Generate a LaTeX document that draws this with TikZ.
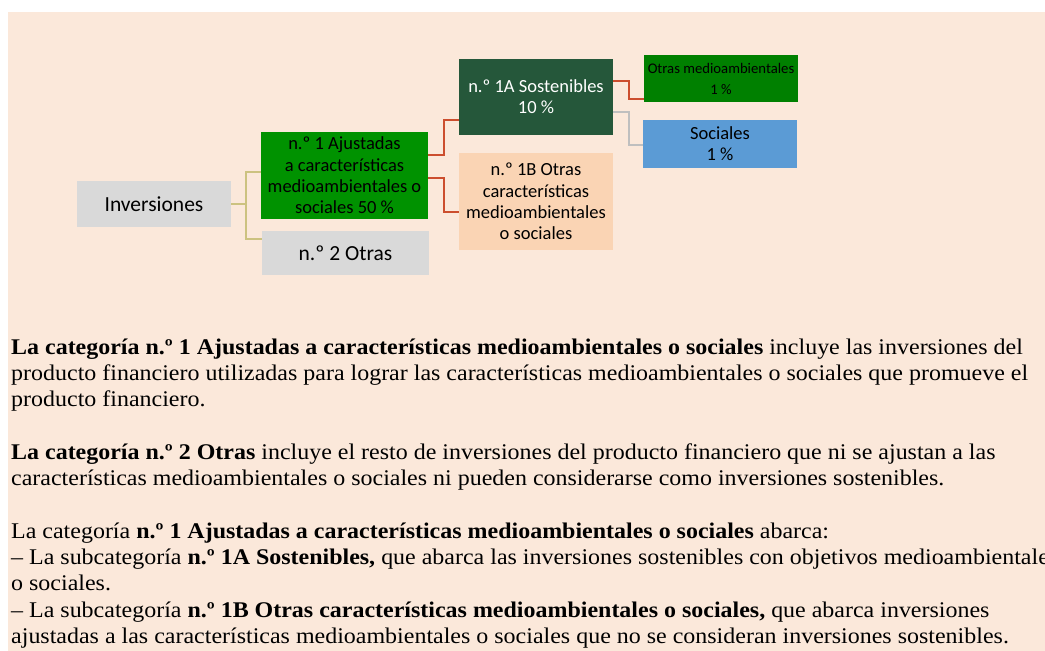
\documentclass[tikz,border=0pt]{standalone}
\usepackage{fontspec}
\setmainfont{Liberation Serif}[FakeStretch=1.07]
\newfontfamily\boxfont{Carlito}
\usetikzlibrary{positioning}
\definecolor{peach}{RGB}{251,232,218}
\definecolor{boxgrey}{RGB}{217,217,217}
\definecolor{brightgreen}{RGB}{0,146,0}
\definecolor{darkgreen}{RGB}{37,87,58}
\definecolor{lightpeach}{RGB}{250,212,180}
\definecolor{midgreen}{RGB}{0,128,0}
\definecolor{skyblue}{RGB}{91,155,213}
\definecolor{khaki}{RGB}{204,194,128}
\definecolor{rust}{RGB}{204,78,46}
\definecolor{linegrey}{RGB}{191,191,191}
\tikzset{
  box/.style={inner sep=0pt, align=center, minimum width=154, font={\boxfont\fontsize{18.5}{21.3}\selectfont}},
  grey/.style={box, fill=boxgrey, font={\boxfont\fontsize{21.5}{24}\selectfont}},
  green/.style={box, fill=brightgreen},
  dark/.style={box, fill=darkgreen, text=white},
  pale/.style={box, fill=lightpeach},
  small/.style={box, fill=midgreen, font={\boxfont\fontsize{14.7}{21}\selectfont}},
  blue/.style={box, fill=skyblue},
  tie/.style={line width=1.5pt},
  line/.style={anchor=base west, inner sep=0pt, font={\fontsize{22.4}{26.3}\selectfont}}
}
\begin{document}
\begin{tikzpicture}[x=1pt,y=-1pt]
    \useasboundingbox (0,0) rectangle (1045,651);
    \fill[peach] (8,12) rectangle (1045,651);
    % boxes
    \node[grey, minimum height=46] (inv) at (154,204) {Inversiones};
    \node[green, minimum width=167, minimum height=87] (n1) at (344.5,175.5) {n.º 1 Ajustadas\\a características\\medioambientales o\\sociales 50 \%};
    \node[grey, minimum width=167, minimum height=44] (n2) at (345.5,253) {n.º 2 Otras};
    \node[dark, minimum height=76] (n1a) at (536,97) {n.º 1A Sostenibles\\10 \%};
    \node[pale, minimum height=97] (n1b) at (536,201.5) {n.º 1B Otras\\características\\medioambientales\\o sociales};
    \node[small, minimum height=47] (oma) at (721,78.5) {Otras medioambientales\\1 \%};
    \node[blue, minimum height=48] (soc) at (720,144) {Sociales\\1 \%};
    % connectors
    \draw[tie, khaki] (inv.east) -- ++(15,0) |- (n1.west |- 0,172);
    \draw[tie, khaki] (inv.east) -- ++(15,0) |- (n2.west |- 0,239);
    \draw[tie, rust] (n1.east |- 0,155) -- ++(16,0) |- (n1a.west |- 0,120);
    \draw[tie, rust] (n1.east |- 0,178) -- ++(16,0) |- (n1b.west |- 0,212);
    \draw[tie, rust] (n1a.east |- 0,81) -- ++(16,0) |- (oma.west |- 0,99);
    \draw[tie, linegrey] (n1a.east |- 0,112) -- ++(16,0) |- (soc.west |- 0,145);
    % text below
    \begin{scope}
    \clip (0,0) rectangle (1045,651);
    \node[line] (p1) at (11,354) {\textbf{La categoría n.º 1 Ajustadas a características medioambientales o sociales} incluye las inversiones del};
    \node[line] (p2) at (11,380.3) {producto financiero utilizadas para lograr las características medioambientales o sociales que promueve el};
    \node[line] (p3) at (11,406.6) {producto financiero.};
    \node[line] (p4) at (11,459.2) {\textbf{La categoría n.º 2 Otras} incluye el resto de inversiones del producto financiero que ni se ajustan a las};
    \node[line] (p5) at (11,485.5) {características medioambientales o sociales ni pueden considerarse como inversiones sostenibles.};
    \node[line] (p6) at (11,538.1) {La categoría \textbf{n.º 1 Ajustadas a características medioambientales o sociales} abarca:};
    \node[line] (p7) at (11,564.4) {– La subcategoría \textbf{n.º 1A Sostenibles,} que abarca las inversiones sostenibles con objetivos medioambientales};
    \node[line] (p8) at (11,590.7) {o sociales.};
    \node[line] (p9) at (11,617) {– La subcategoría \textbf{n.º 1B Otras características medioambientales o sociales,} que abarca inversiones};
    \node[line] (p10) at (11,643.3) {ajustadas a las características medioambientales o sociales que no se consideran inversiones sostenibles.};
    \end{scope}
\end{tikzpicture}
\end{document}
